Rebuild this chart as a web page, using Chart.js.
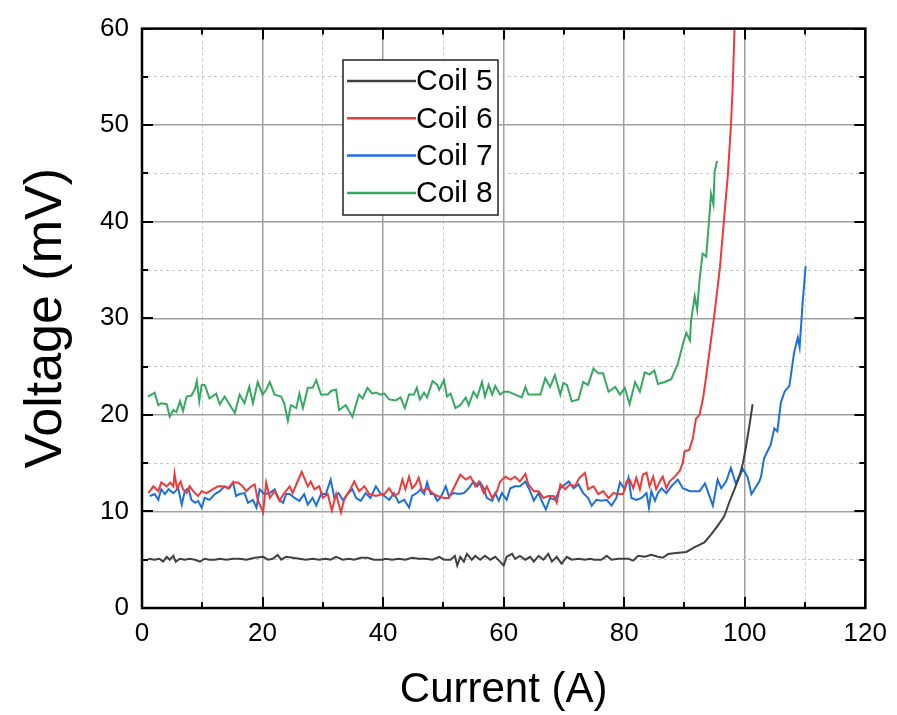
<!DOCTYPE html>
<html>
<head>
<meta charset="utf-8">
<script src="https://cdn.jsdelivr.net/npm/chart.js@4.4.1/dist/chart.umd.min.js"></script>
<style>
  html, body { margin: 0; padding: 0; background: #fff; }
  #wrap { width: 897px; height: 715px; }
</style>
</head>
<body>
<div id="wrap"><canvas id="ivChart" width="897" height="715"></canvas></div>
<script>
// ===== DATA =====
const seriesNames = ['Coil 5', 'Coil 6', 'Coil 7', 'Coil 8'];

const current5 = [1.0,2.1,2.9,3.5,4.1,4.6,5.2,5.6,6.3,7.1,7.9,8.8,9.6,10.4,11.2,12.1,12.9,14.0,15.1,16.2,17.3,18.7,20.1,20.9,21.7,22.5,23.1,23.9,25.0,26.1,27.2,28.3,29.4,30.5,31.3,32.2,33.3,34.4,35.2,36.3,37.4,38.5,39.9,
  40.4,41.5,42.6,43.7,44.8,45.9,47.0,48.2,49.3,50.1,51.2,51.9,52.3,52.8,53.4,53.9,54.7,55.3,56.1,56.9,57.8,58.6,59.4,60.0,60.5,61.4,61.9,62.7,63.6,64.4,65.0,65.8,66.6,67.4,68.0,68.8,69.6,70.5,71.3,72.4,73.5,74.3,75.1,76.2,77.1,77.9,79.0,
  80.7,81.5,82.3,83.4,84.5,85.6,86.4,87.3,88.6,90.3,91.7,93.3,94.4,95.5,96.6,97.4,98.3,99.1,99.7,100.2,100.8,101.3];
const voltage5 = [5.1,5.0,5.1,4.8,5.3,5.0,5.4,4.8,5.1,5.0,5.1,5.0,4.8,5.1,5.0,5.0,5.1,5.0,5.1,5.1,5.0,5.2,5.3,5.0,5.1,5.5,5.0,5.3,5.2,5.1,5.0,5.1,5.0,5.1,5.0,5.3,5.0,5.1,5.0,5.2,5.2,5.0,5.0,
  5.1,5.0,5.1,5.0,5.2,5.1,5.1,5.0,5.3,5.0,5.0,5.4,4.4,5.3,4.8,5.6,5.0,5.4,5.0,5.4,5.0,5.3,4.8,4.4,5.3,5.6,5.1,5.4,5.0,5.3,4.8,5.4,5.0,5.6,4.8,5.3,4.6,5.3,5.0,5.1,5.0,5.1,5.0,5.0,5.4,5.0,5.1,
  5.1,4.9,5.4,5.3,5.5,5.3,5.2,5.6,5.7,5.8,6.3,6.8,7.6,8.5,9.5,10.9,12.3,13.6,15.0,16.7,19.0,21.1];

const current6 = [1.05,1.9,2.7,3.2,4.1,4.7,5.2,5.4,5.8,6.4,6.8,7.4,7.9,8.5,9.3,9.9,10.7,11.8,12.6,13.4,14.3,15.1,15.9,16.7,17.3,18.1,18.7,19.2,20.1,20.6,21.2,22.0,22.8,23.6,24.5,25.0,25.8,26.5,26.9,27.5,28.0,28.6,29.4,30.0,30.8,31.5,32.2,33.0,33.6,34.4,35.2,36.0,36.9,37.7,38.8,39.9,
  40.2,41.0,41.8,42.6,43.2,43.7,44.3,44.8,45.4,45.9,46.5,47.3,48.2,49.0,50.1,50.9,51.7,52.8,53.7,54.5,55.3,55.9,56.7,57.2,58.1,58.9,59.4,60.3,61.1,61.9,62.7,63.6,64.1,65.0,65.8,66.6,67.4,68.3,68.8,69.4,70.2,71.0,71.8,72.6,73.5,74.0,74.9,75.7,76.5,77.4,78.2,79.0,79.8,
  80.4,80.9,81.5,82.0,82.6,83.1,83.7,84.2,84.8,85.3,85.9,86.4,87.0,87.5,88.4,89.2,89.7,90.0,90.8,91.4,91.9,92.5,93.1,93.6,94.2,95.0,95.9,96.5,97.2,97.7,98.0,98.3];
const voltage6 = [11.9,12.6,12.1,13.0,12.6,13.0,12.6,13.9,12.4,13.1,12.3,11.9,12.6,12.1,11.6,12.1,11.9,12.3,12.6,12.6,12.4,13.0,13.0,12.6,12.1,12.6,12.8,11.2,9.9,13.0,11.4,12.1,11.1,11.9,12.6,11.9,13.1,14.1,13.5,12.6,13.1,12.3,12.6,11.4,11.8,10.1,11.8,9.9,11.4,12.1,13.1,12.1,12.6,11.8,11.6,11.8,
  11.8,12.4,11.6,11.9,13.3,12.3,13.6,12.4,12.8,13.5,12.1,12.4,11.9,11.6,11.4,11.4,12.4,13.8,13.3,13.6,12.6,13.1,11.9,12.6,11.4,12.1,13.1,13.6,13.3,13.6,13.1,13.9,12.8,12.1,12.1,11.4,11.6,11.6,10.9,12.8,12.3,12.8,12.6,13.5,14.0,12.3,12.6,11.8,12.1,11.4,11.9,11.8,11.8,
  13.1,13.3,12.4,13.5,12.3,13.8,14.0,12.6,13.6,12.3,13.1,13.6,12.4,13.1,13.6,14.2,15.0,16.2,16.4,17.6,19.6,20.0,21.8,24.0,26.8,30.6,35.4,39.8,44.9,49.9,54.0,60.0];

const current7 = [1.3,2.1,2.7,3.2,3.8,4.4,5.2,6.0,6.6,7.1,7.7,8.2,8.8,9.3,9.9,10.4,11.2,12.1,12.9,13.7,14.5,15.1,15.6,16.2,17.0,17.6,18.4,19.0,19.5,20.3,21.2,22.0,22.8,23.4,23.9,24.5,25.3,26.1,26.9,27.5,28.3,28.9,29.7,30.5,31.3,31.9,32.6,33.4,34.1,34.9,35.5,36.3,37.1,37.9,38.8,39.6,
  40.2,41.0,41.8,42.6,43.5,44.3,44.8,45.6,46.2,46.8,47.3,47.9,48.4,49.0,49.5,50.4,50.9,51.7,52.6,53.4,54.2,55.0,55.6,56.1,56.7,57.2,58.1,58.6,59.2,59.7,60.5,61.1,61.9,62.7,63.6,64.4,65.0,65.8,66.3,67.0,67.7,68.5,69.4,70.2,70.8,71.6,72.4,73.2,74.0,74.6,75.4,76.2,77.1,77.9,78.7,79.3,
  80.1,80.7,81.2,82.0,82.9,83.7,84.1,84.5,85.1,85.6,86.2,87.0,87.8,88.9,89.7,90.9,92.5,93.4,94.7,95.5,96.1,96.9,97.7,98.5,99.7,100.5,101.1,101.6,102.4,102.7,103.2,104.3,104.9,105.4,106.0,106.6,107.4,108.2,108.8,109.1,109.6,110.1];
const voltage7 = [11.6,11.8,11.2,12.3,11.8,12.3,11.9,12.4,10.7,12.1,12.4,11.2,10.9,11.1,10.4,11.4,11.2,11.8,12.1,12.6,12.4,13.0,11.6,11.8,11.9,10.9,11.2,10.4,12.3,11.8,11.9,12.3,11.2,10.9,11.8,11.8,11.4,11.1,11.8,10.7,11.4,10.6,11.8,11.8,13.3,11.4,11.9,11.1,11.8,12.3,11.4,11.1,11.9,11.4,12.6,11.8,
  11.6,11.2,11.9,10.9,11.2,10.4,11.6,11.9,12.3,11.8,13.0,11.8,11.8,11.1,11.4,12.6,11.6,11.9,11.8,11.9,12.4,13.1,12.6,13.0,12.4,11.4,11.1,11.9,11.1,11.9,11.2,12.4,12.6,12.6,13.1,12.1,11.1,11.9,11.1,10.2,11.4,11.2,12.4,12.8,13.1,12.4,12.8,11.9,11.4,10.6,11.2,11.1,11.2,10.6,11.4,13.0,
  12.3,13.5,11.4,11.2,11.4,11.9,10.4,12.1,11.1,11.9,12.4,11.9,12.6,13.3,12.4,12.1,12.1,12.9,10.6,13.3,12.4,13.1,14.5,12.9,14.4,13.5,11.8,12.3,13.1,13.6,15.5,16.9,18.6,18.3,21.3,22.4,23.0,26.5,28.0,27.0,31.6,35.4];

const current8 = [1.0,2.1,2.7,3.2,4.1,4.6,5.2,5.7,6.3,6.8,7.4,8.2,8.8,9.1,9.5,9.9,10.4,11.2,12.3,12.9,13.7,14.5,15.4,16.2,17.0,17.8,18.4,19.2,20.0,20.6,21.2,22.0,23.1,23.6,24.2,24.7,25.6,26.1,26.7,27.5,28.3,28.9,29.7,30.8,31.4,32.2,32.7,33.8,34.9,36.0,36.6,37.4,38.2,38.8,39.6,
  40.2,41.0,42.1,42.9,43.6,44.3,45.1,45.6,46.1,46.8,47.3,48.2,49.0,49.3,50.1,50.6,51.2,52.0,52.8,53.7,54.2,55.0,55.6,56.4,56.9,57.5,58.1,58.6,59.4,60.0,60.8,61.9,63.0,63.6,64.1,65.2,66.1,66.9,67.7,68.5,69.4,69.9,70.5,71.3,72.4,73.2,74.0,74.9,75.7,76.5,77.4,78.5,79.3,
  80.1,80.9,81.8,82.6,83.4,84.2,85.0,85.6,86.7,87.8,88.9,89.4,89.8,90.3,90.9,91.1,91.7,92.1,92.5,93.0,93.6,94.2,94.4,94.8,95.0,95.4];
const voltage8 = [21.9,22.3,21.0,21.2,21.1,19.8,20.5,20.3,21.4,20.4,21.9,22.0,22.7,23.5,21.4,23.1,23.1,21.7,22.2,21.1,21.9,21.1,20.2,22.1,21.2,22.9,21.2,23.4,22.1,22.6,23.4,22.1,21.9,21.2,19.4,21.0,20.7,22.2,20.7,22.8,22.8,23.6,22.1,22.1,22.5,22.6,20.5,21.0,19.8,22.1,21.7,22.8,22.2,22.3,22.1,
  22.2,21.6,21.5,21.8,20.7,22.1,22.1,22.8,21.6,22.3,21.8,23.5,23.1,22.6,23.6,21.9,22.2,20.7,21.0,21.8,21.0,22.4,21.8,23.4,21.9,23.1,22.1,23.0,22.1,22.4,22.4,22.1,21.8,22.9,22.1,22.1,22.1,23.8,22.9,24.1,22.1,23.3,23.1,21.4,21.6,23.4,23.1,24.8,24.3,24.3,22.4,22.9,22.1,
  22.8,21.1,23.4,22.4,24.4,24.2,24.6,23.2,23.4,23.7,25.3,26.5,27.5,28.5,27.7,29.8,32.3,30.9,34.0,36.7,36.4,41.1,42.9,41.8,45.2,46.3];

const seriesColors = ['#404040', '#f03a3a', '#1c6fe0', '#37a862'];

const xTicksMajor = 20, xTicksMinor = 10;
const yTicksMajor = 10, yTicksMinor = 5;

const FONT = "'Liberation Sans', Arial, sans-serif";

function toPoints(xs, ys) {
  return xs.map((x, i) => ({ x: x, y: ys[i] }));
}

// ===== FRAME + INWARD TICKS =====
const frameTicks = {
  id: 'frameTicks',
  afterDatasetsDraw(chart) {
    const { ctx, chartArea: a, scales: { x, y } } = chart;
    ctx.save();
    ctx.strokeStyle = '#000';
    ctx.lineCap = 'butt';
    ctx.lineWidth = 2;
    for (let v = 0; v <= 120; v += xTicksMinor) {
      const px = Math.round(x.getPixelForValue(v));
      const len = v % xTicksMajor === 0 ? 11 : 6;
      ctx.beginPath();
      ctx.moveTo(px, a.bottom); ctx.lineTo(px, a.bottom - len);
      ctx.moveTo(px, a.top); ctx.lineTo(px, a.top + len);
      ctx.stroke();
    }
    for (let v = 0; v <= 60; v += yTicksMinor) {
      const py = Math.round(y.getPixelForValue(v));
      const len = v % yTicksMajor === 0 ? 11 : 6;
      ctx.beginPath();
      ctx.moveTo(a.left, py); ctx.lineTo(a.left + len, py);
      ctx.moveTo(a.right, py); ctx.lineTo(a.right - len, py);
      ctx.stroke();
    }
    ctx.lineWidth = 2.5;
    ctx.strokeRect(a.left, a.top, a.right - a.left, a.bottom - a.top);
    ctx.restore();
  }
};

// ===== LEGEND BOX =====
const boxLegend = {
  id: 'boxLegend',
  afterDraw(chart) {
    const ctx = chart.ctx;
    const bx = 343, by = 60, bw = 155, bh = 155;
    ctx.save();
    ctx.fillStyle = '#fff';
    ctx.fillRect(bx, by, bw, bh);
    ctx.strokeStyle = '#222';
    ctx.lineWidth = 1.5;
    ctx.strokeRect(bx, by, bw, bh);
    ctx.font = '30px ' + FONT;
    ctx.textBaseline = 'middle';
    ctx.textAlign = 'left';
    chart.data.datasets.forEach((ds, i) => {
      const ry = 81 + i * 37.3;
      ctx.strokeStyle = ds.borderColor;
      ctx.lineWidth = 2.5;
      ctx.beginPath();
      ctx.moveTo(347, ry); ctx.lineTo(416, ry);
      ctx.stroke();
      ctx.fillStyle = '#000';
      ctx.fillText(ds.label, 416, ry + 1);
    });
    ctx.restore();
  }
};

const seriesX = [current5, current6, current7, current8];
const seriesY = [voltage5, voltage6, voltage7, voltage8];

const ctx = document.getElementById('ivChart').getContext('2d');
new Chart(ctx, {
  type: 'line',
  data: {
    datasets: seriesNames.map((name, i) => ({
      label: name,
      data: toPoints(seriesX[i], seriesY[i]),
      borderColor: seriesColors[i],
      borderWidth: 2,
      pointRadius: 0,
      tension: 0,
      fill: false
    }))
  },
  options: {
    responsive: false,
    animation: false,
    devicePixelRatio: 1,
    layout: { padding: { left: 0, right: 29, top: 23, bottom: 0 } },
    plugins: { legend: { display: false }, tooltip: { enabled: false } },
    scales: {
      x: {
        type: 'linear',
        min: 0, max: 120,
        afterFit: s => { s.height = 107; },
        ticks: {
          stepSize: xTicksMinor,
          autoSkip: false,
          maxRotation: 0,
          padding: 10,
          color: '#000',
          font: { family: FONT, size: 26 },
          callback: v => (v % xTicksMajor === 0 ? v : '')
        },
        grid: {
          drawTicks: false,
          color: c => (c.tick && c.tick.value % xTicksMajor === 0 ? '#a0a0a0' : '#c8c8c8'),
          lineWidth: c => (c.tick && c.tick.value % xTicksMajor === 0 ? 1.5 : 1)
        },
        border: {
          display: false,
          dash: c => (c.tick && c.tick.value % xTicksMajor !== 0 ? [3, 3] : [])
        },
        title: {
          display: true,
          text: 'Current (A)',
          color: '#000',
          font: { family: FONT, size: 42, lineHeight: 1 },
          padding: { top: 0, bottom: 4 }
        }
      },
      y: {
        type: 'linear',
        min: 0, max: 60,
        afterFit: s => { s.width = 142; },
        ticks: {
          stepSize: yTicksMinor,
          padding: 13,
          color: '#000',
          font: { family: FONT, size: 26 },
          callback: v => (v % yTicksMajor === 0 ? v : '')
        },
        grid: {
          drawTicks: false,
          color: c => (c.tick && c.tick.value % yTicksMajor === 0 ? '#a0a0a0' : '#c8c8c8'),
          lineWidth: c => (c.tick && c.tick.value % yTicksMajor === 0 ? 1.5 : 1)
        },
        border: {
          display: false,
          dash: c => (c.tick && c.tick.value % yTicksMajor !== 0 ? [3, 3] : [])
        },
        title: {
          display: true,
          text: 'Voltage (mV)',
          color: '#000',
          font: { family: FONT, size: 52, lineHeight: 1 },
          padding: { top: 21, bottom: 0 }
        }
      }
    }
  },
  plugins: [frameTicks, boxLegend]
});
</script>
</body>
</html>
